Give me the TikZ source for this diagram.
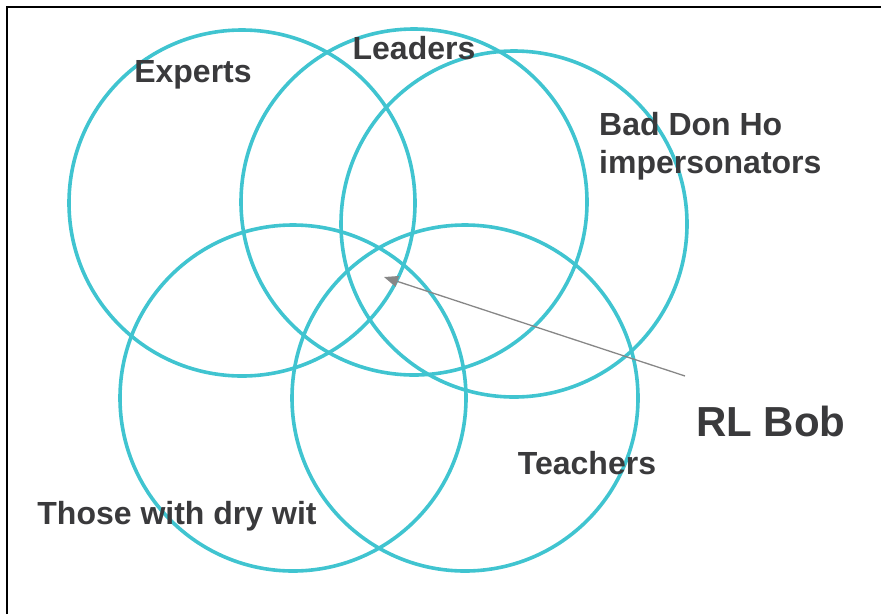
\documentclass[tikz,border=0pt]{standalone}
\usepackage{fontspec}
\setmainfont{Liberation Sans}
\usepackage{tikz}
\usetikzlibrary{arrows.meta}
\usetikzlibrary{positioning}
\definecolor{setblue}{RGB}{64,196,208}
\definecolor{labelgray}{RGB}{58,58,60}
\definecolor{pointergray}{RGB}{135,135,135}
\tikzset{
    setcircle/.style={
        draw=setblue,
        circle,
        line width=3.6pt,
        inner sep=0pt,
        minimum size=346pt
    },
    setlabel/.style={
        text=labelgray,
        font=\fontsize{32}{38}\selectfont\bfseries,
        inner sep=0pt
    },
    pointer/.style={
        draw=pointergray,
        line width=1.3pt,
        -{Triangle[length=14pt, width=11pt]}
    }
}

\begin{document}
\begin{tikzpicture}[x=1pt, y=-1pt]
  \useasboundingbox (0,0) rectangle (881,614);

  % Frame (cut off on the right and at the bottom)
  \draw[line width=2.2pt, black] (7,614) -- (7,7) -- (881,7);

  % The five sets
  \node[setcircle] (experts) at (242,203) {};
  \node[setcircle] (leaders) at (414,202) {};
  \node[setcircle] (donho) at (514,224) {};
  \node[setcircle] (drywit) at (293,398) {};
  \node[setcircle] (teachers) at (465,398) {};

  % Set labels
  \node[setlabel] (expertslabel) at (193,75) {Experts};
  \node[setlabel] (leaderslabel) at (414,48) {Leaders};
  \node[setlabel, align=left, anchor=west] (donholabel) at (599,146) {Bad Don Ho\\impersonators};
  \node[setlabel] (teacherslabel) at (587,463) {Teachers};
  \node[setlabel] (drywitlabel) at (177,516) {Those with dry wit};

  % RL Bob and where he sits
  \node[setlabel, font=\fontsize{42}{48}\selectfont\bfseries] (bob) at (771,421) {RL Bob};
  \coordinate (bobtail) at (685,376);
  \coordinate (bobspot) at (384,277);
  \draw[pointer] (bobtail) -- (bobspot);
\end{tikzpicture}
\end{document}
